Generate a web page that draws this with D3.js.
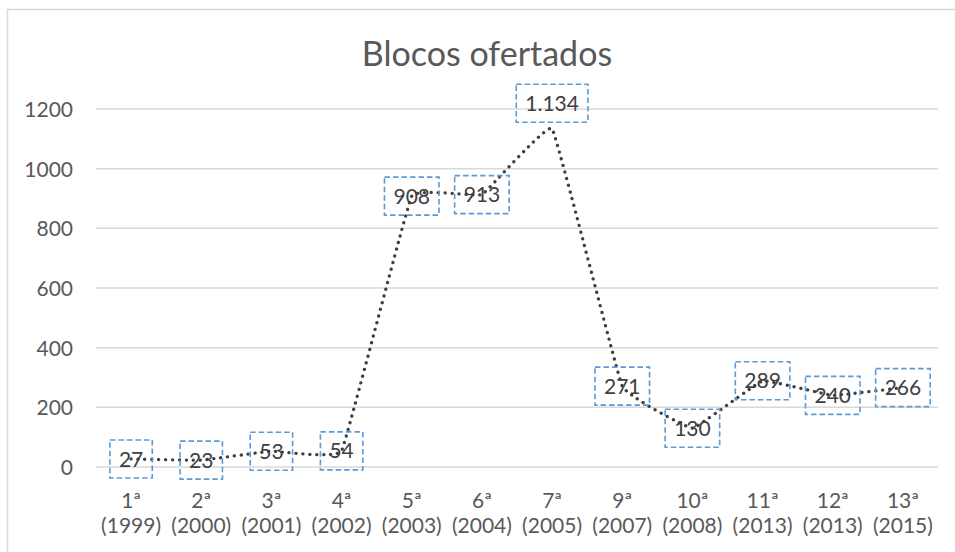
<!DOCTYPE html>
<html>
<head>
<meta charset="utf-8">
<script src="https://cdn.jsdelivr.net/npm/d3@7"></script>
<style>
  body { margin: 0; background: #fff; }
  text { font-family: Lato, "Open Sans", sans-serif; }
</style>
</head>
<body>
<div id="chart"></div>
<script>
// data
var rounds = ["1ª", "2ª", "3ª", "4ª", "5ª", "6ª", "7ª", "9ª", "10ª", "11ª", "12ª", "13ª"];
var years = ["(1999)", "(2000)", "(2001)", "(2002)", "(2003)", "(2004)", "(2005)", "(2007)", "(2008)", "(2013)", "(2013)", "(2015)"];
var blocos = [27, 23, 53, 54, 908, 913, 1134, 271, 130, 289, 240, 266];
var yTicks = [0, 200, 400, 600, 800, 1000, 1200];

var W = 955, H = 552;
var margin = { top: 109, right: 17, bottom: 85, left: 96 },
    width = W - margin.left - margin.right,
    height = H - margin.top - margin.bottom;

var ptBR = d3.formatLocale({ decimal: ",", thousands: ".", grouping: [3], currency: ["R$", ""] });
var fmt = ptBR.format(",d");

var svg = d3.select("#chart")
    .append("svg")
    .attr("width", W)
    .attr("height", H);

// chart frame
svg.append("rect")
    .attr("x", 7.5).attr("y", 9.5)
    .attr("width", 970).attr("height", 570)
    .attr("fill", "none")
    .attr("stroke", "#d9d9d9")
    .attr("stroke-width", 1.5);

// title
svg.append("text")
    .attr("x", 487)
    .attr("y", 66)
    .attr("text-anchor", "middle")
    .style("font-size", "34px")
    .style("fill", "#595959")
    .text("Blocos ofertados");

var g = svg.append("g")
    .attr("transform", "translate(" + margin.left + "," + margin.top + ")");

var x = d3.scalePoint().domain(d3.range(rounds.length)).range([0, width]).padding(0.5);
var y = d3.scaleLinear().domain([0, 1200]).range([height, 0]);

// gridlines
g.selectAll(".grid")
    .data(yTicks)
    .enter().append("line")
    .attr("x1", 0).attr("x2", width)
    .attr("y1", function(d) { return y(d); })
    .attr("y2", function(d) { return y(d); })
    .attr("stroke", "#d9d9d9")
    .attr("stroke-width", 1.5);

// y axis labels
var yAxis = g.append("g")
    .call(d3.axisLeft(y).tickValues(yTicks).tickSize(0).tickPadding(23).tickFormat(d3.format("d")));
yAxis.select(".domain").remove();
yAxis.selectAll("text")
    .style("font-size", "21px")
    .style("font-family", "Lato, sans-serif")
    .style("fill", "#595959")
    .attr("dy", "0.36em");

// x axis labels (two lines)
var xl = g.selectAll(".xlab")
    .data(rounds)
    .enter().append("text")
    .attr("text-anchor", "middle")
    .style("font-size", "21px")
    .style("fill", "#595959");
xl.append("tspan")
    .attr("x", function(d, i) { return x(i); })
    .attr("y", height + 41)
    .text(function(d) { return d; });
xl.append("tspan")
    .attr("x", function(d, i) { return x(i); })
    .attr("y", height + 66)
    .text(function(d, i) { return years[i]; });

// smoothed dotted line
var line = d3.line()
    .x(function(d, i) { return x(i); })
    .y(function(d) { return y(d); })
    .curve(d3.curveCardinal.tension(0.8));

g.append("path")
    .datum(blocos)
    .attr("d", line)
    .attr("fill", "none")
    .attr("stroke", "#404040")
    .attr("stroke-width", 3.3)
    .attr("stroke-linecap", "round")
    .attr("stroke-dasharray", "0.1 6.8");

// data labels with dashed boxes
var maxV = d3.max(blocos);
var labels = g.selectAll(".lbl")
    .data(blocos)
    .enter().append("g")
    .attr("transform", function(d, i) {
        var cy = d === maxV ? y(d) - 25.5 : y(d);
        return "translate(" + x(i) + "," + cy + ")";
    });

labels.append("text")
    .attr("text-anchor", "middle")
    .attr("dy", "0.36em")
    .style("font-size", "21px")
    .style("fill", "#404040")
    .text(function(d) { return fmt(d); });

labels.each(function() {
    var grp = d3.select(this);
    var bb = grp.select("text").node().getBBox();
    var bw = bb.width + 18, bh = 38;
    grp.insert("rect", "text")
        .attr("x", -bw / 2).attr("y", -bh / 2)
        .attr("width", bw).attr("height", bh)
        .attr("fill", "none")
        .attr("stroke", "#5b9bd5")
        .attr("stroke-width", 1.6)
        .attr("stroke-dasharray", "5.5 3");
});
</script>
</body>
</html>
